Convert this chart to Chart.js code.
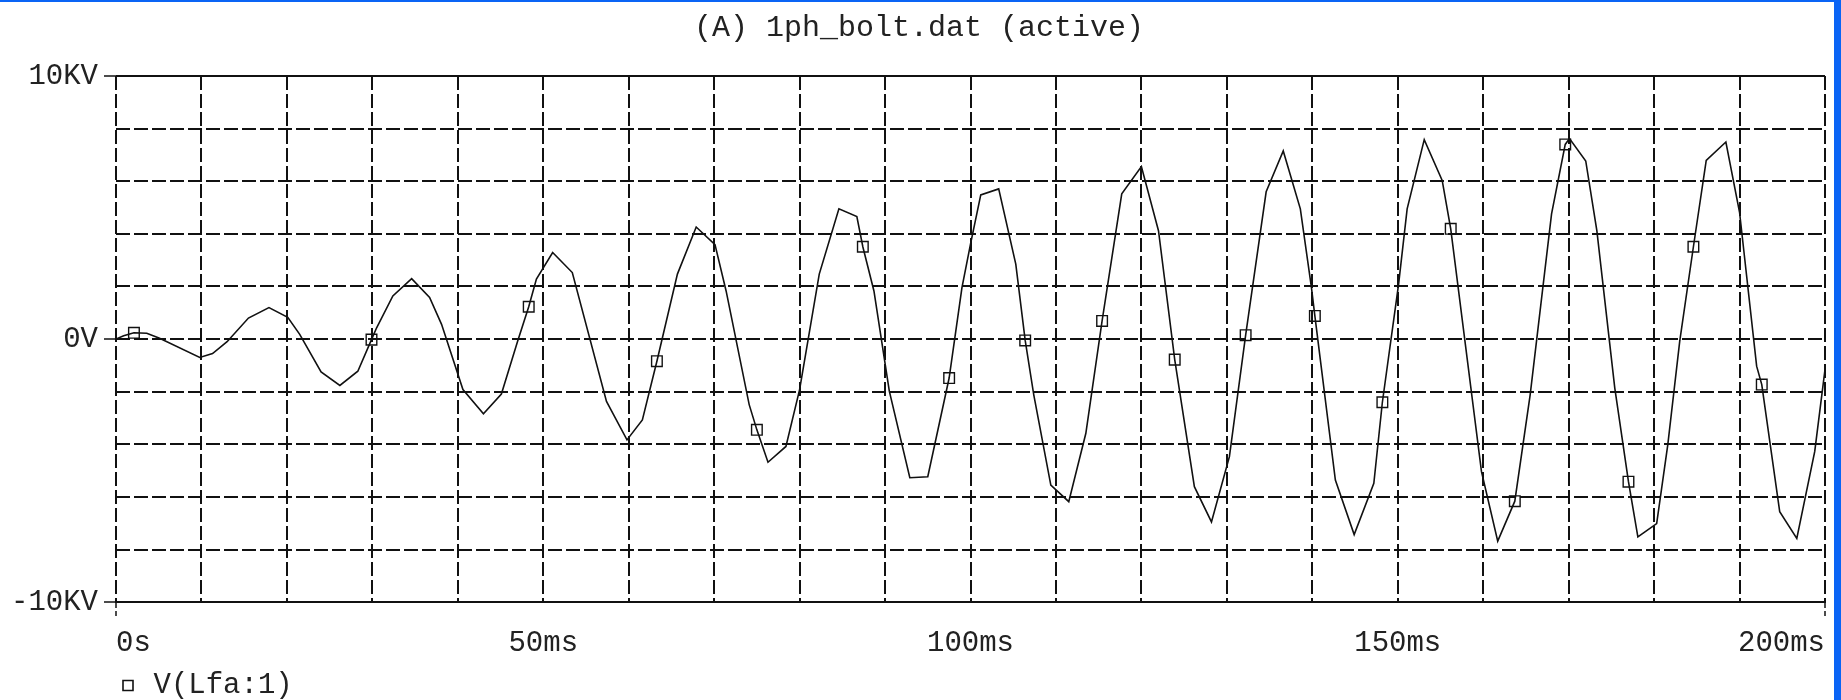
<!DOCTYPE html>
<html>
<head>
<meta charset="utf-8">
<script src="https://cdn.jsdelivr.net/npm/chart.js@4.4.1/dist/chart.umd.min.js"></script>
<style>
  html, body { margin: 0; padding: 0; background: #fff; overflow: hidden; }
  #wrap { position: relative; width: 1841px; height: 700px; overflow: hidden; }
  #plot { position: absolute; left: 0; top: 0; }
  #edgeTop { position: absolute; left: 0; top: 0; width: 1841px; height: 2px; background: #0a64f5; }
  #edgeRight { position: absolute; left: 1834px; top: 0; width: 7px; height: 700px; background: #0a64f5; }
</style>
</head>
<body>
<div id="wrap">
  <canvas id="plot" width="1834" height="712"></canvas>
  <div id="edgeTop"></div>
  <div id="edgeRight"></div>
</div>
<script>
// V(Lfa:1) trace, time in ms and voltage in kV
const timeMs = [0, 0.9, 2.1, 3.6, 5.1, 9.8, 11.3, 13.0, 15.5, 17.9, 20.1, 21.5, 24.0, 26.2, 28.3, 29.9,
  30.5, 32.4, 34.6, 36.7, 38.1, 40.6, 43.0, 45.1, 47.0, 48.3, 49.2, 51.1, 53.4, 57.4, 59.8, 61.6,
  63.3, 65.7, 67.9, 70.1, 71.4, 74.1, 75.0, 76.3, 78.4, 80.0, 82.3, 84.6, 86.7, 87.4, 88.7, 90.5,
  92.9, 95.0, 97.5, 99.0, 100.0, 101.2, 103.3, 105.3, 106.4, 107.4, 109.4, 111.5, 113.5, 115.4,
  117.7, 120.0, 122.0, 123.9, 126.2, 128.2, 130.3, 132.2, 134.6, 136.6, 138.6, 139.9, 140.3, 142.7,
  144.9, 147.2, 148.2, 150.1, 151.1, 153.1, 155.2, 156.2, 159.8, 161.7, 163.7, 165.5, 168.0, 169.6,
  170.1, 172.0, 173.3, 175.4, 177.0, 178.1, 180.3, 181.6, 183.0, 184.6, 186.1, 188.4, 190.0, 192.0,
  192.6, 194.7, 196.7, 198.8, 200.0];
const voltKV = [0, 0.13, 0.24, 0.22, 0.03, -0.7, -0.55, -0.1, 0.8, 1.2, 0.83, 0.18, -1.25, -1.76, -1.22, -0.02,
  0.43, 1.64, 2.3, 1.58, 0.56, -1.92, -2.84, -2.09, -0.08, 1.23, 2.28, 3.29, 2.53, -2.37, -3.83, -3.07,
  -0.84, 2.47, 4.26, 3.59, 1.83, -2.49, -3.45, -4.68, -4.08, -1.92, 2.47, 4.95, 4.66, 3.51, 1.83, -1.98,
  -5.27, -5.23, -1.48, 1.96, 3.61, 5.48, 5.71, 2.85, -0.05, -2.11, -5.55, -6.18, -3.58, 0.69,
  5.52, 6.56, 4.12, -0.78, -5.61, -6.95, -4.47, 0.15, 5.6, 7.15, 4.95, 1.96, 0.88, -5.36,
  -7.43, -5.48, -2.4, 2.09, 4.95, 7.58, 6.03, 4.19, -5.04, -7.68, -6.16, -2.11, 4.76, 7.4,
  7.62, 6.77, 4.12, -1.86, -5.42, -7.52, -7.01, -4.02, -0.08, 3.51, 6.79, 7.49, 4.82, -1.03,
  -1.73, -6.56, -7.58, -4.27, -1.16];

// probe symbols sitting on the trace
const markTimeMs = [2.1, 29.9, 48.3, 63.3, 75.0, 87.4, 97.5, 106.4, 115.4, 123.9, 132.2, 140.3, 148.2,
  156.2, 163.7, 169.6, 177.0, 184.6, 192.6];
const markKV = [0.24, -0.02, 1.23, -0.84, -3.45, 3.51, -1.48, -0.05, 0.69, -0.78, 0.15, 0.88, -2.4,
  4.19, -6.16, 7.4, -5.42, 3.51, -1.73];

const xLabelAt = [0, 50, 100, 150, 200];
const xLabelText = ['0s', '50ms', '100ms', '150ms', '200ms'];
const yLabelAt = [-10, 0, 10];
const yLabelText = ['-10KV', '0V', '10KV'];

const ink = '#111';
const mono = "'Liberation Mono', 'DejaVu Sans Mono', monospace";

Chart.defaults.font.family = mono;
Chart.defaults.color = '#222';

const tracePts = timeMs.map((t, i) => ({x: t, y: voltKV[i]}));
const markPts = markTimeMs.map((t, i) => ({x: t, y: markKV[i]}));

// solid top edge of the plot frame
const topEdge = {
  id: 'topEdge',
  beforeDatasetsDraw(chart) {
    const a = chart.chartArea;
    const ctx = chart.ctx;
    ctx.save();
    ctx.strokeStyle = ink;
    ctx.lineWidth = 2;
    ctx.beginPath();
    ctx.moveTo(a.left, a.top);
    ctx.lineTo(a.right, a.top);
    ctx.stroke();
    ctx.restore();
  }
};

new Chart(document.getElementById('plot'), {
  type: 'line',
  data: {
    datasets: [{
      label: 'V(Lfa:1)',
      data: tracePts,
      borderColor: ink,
      backgroundColor: 'rgba(0,0,0,0)',
      borderWidth: 1.6,
      tension: 0,
      pointRadius: 0,
      pointStyle: 'rect'
    }, {
      label: 'markers',
      data: markPts,
      showLine: false,
      borderColor: ink,
      backgroundColor: 'rgba(0,0,0,0)',
      borderWidth: 1.4,
      pointStyle: 'rect',
      pointRadius: 7.5
    }]
  },
  options: {
    responsive: false,
    animation: false,
    devicePixelRatio: 1,
    layout: { padding: { left: 11, right: 7, top: 0, bottom: 2 } },
    scales: {
      x: {
        type: 'linear',
        min: 0,
        max: 200,
        border: { display: true, color: ink, width: 2, dash: [14, 4] },
        grid: {
          color: ink,
          lineWidth: 2,
          tickLength: 15,
          tickWidth: 1.5,
          tickBorderDash: [5, 3],
          tickColor: (c) => (c.tick && (c.tick.value === 0 || c.tick.value === 200)) ? ink : 'rgba(0,0,0,0)'
        },
        ticks: {
          stepSize: 10,
          autoSkip: false,
          maxRotation: 0,
          minRotation: 0,
          align: 'inner',
          padding: 9,
          font: { size: 29 },
          callback: (v) => {
            const k = xLabelAt.indexOf(v);
            return k < 0 ? '' : xLabelText[k];
          }
        }
      },
      y: {
        min: -10,
        max: 10,
        afterFit: (s) => { s.width = 105; },
        border: { display: false, dash: [14, 4] },
        grid: {
          color: ink,
          lineWidth: 2,
          tickLength: 12,
          tickWidth: 1.5,
          tickBorderDash: [],
          tickColor: (c) => (c.tick && yLabelAt.includes(c.tick.value)) ? ink : 'rgba(0,0,0,0)'
        },
        ticks: {
          stepSize: 2,
          autoSkip: false,
          padding: 6,
          font: { size: 29 },
          callback: (v) => {
            const k = yLabelAt.indexOf(v);
            return k < 0 ? '' : yLabelText[k];
          }
        }
      }
    },
    plugins: {
      title: {
        display: true,
        text: '(A) 1ph_bolt.dat (active)',
        color: '#222',
        font: { size: 30, weight: 'normal' },
        padding: { top: 10, bottom: 30 }
      },
      legend: {
        position: 'bottom',
        align: 'start',
        fullSize: false,
        labels: {
          usePointStyle: true,
          boxWidth: 22,
          boxHeight: 10,
          padding: 1,
          color: '#222',
          font: { size: 29 },
          filter: (item) => item.datasetIndex === 0
        }
      },
      tooltip: { enabled: false }
    }
  },
  plugins: [topEdge]
});
</script>
</body>
</html>
